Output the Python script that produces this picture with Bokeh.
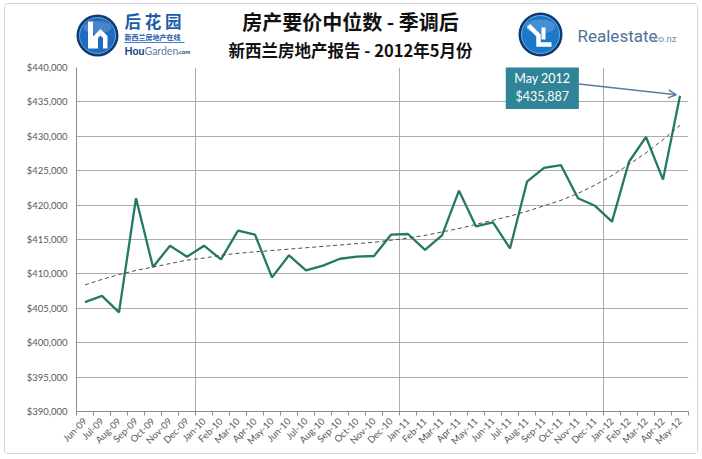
import math
from bokeh.plotting import figure
from bokeh.layouts import column
from bokeh.models import (Range1d, FixedTicker, NumeralTickFormatter, BoxAnnotation,
                          Label, Arrow, OpenHead)
from bokeh.core.properties import value
from bokeh.embed import file_html
from bokeh.resources import INLINE

# ---------------- data ----------------
months = ["Jun-09", "Jul-09", "Aug-09", "Sep-09", "Oct-09", "Nov-09", "Dec-09",
          "Jan-10", "Feb-10", "Mar-10", "Apr-10", "May-10", "Jun-10", "Jul-10",
          "Aug-10", "Sep-10", "Oct-10", "Nov-10", "Dec-10",
          "Jan-11", "Feb-11", "Mar-11", "Apr-11", "May-11", "Jun-11", "Jul-11",
          "Aug-11", "Sep-11", "Oct-11", "Nov-11", "Dec-11",
          "Jan-12", "Feb-12", "Mar-12", "Apr-12", "May-12"]

asking_price = [405900, 406800, 404400, 421000, 411000, 414100, 412500,
                414100, 412100, 416300, 415700, 409500, 412700, 410500,
                411200, 412200, 412500, 412600, 415700,
                415800, 413500, 415600, 422100, 416900, 417500, 413700,
                423400, 425400, 425800, 421000, 419900,
                417600, 426300, 429900, 423700, 435887]

trend = [408400, 409200, 409900, 410500, 411000, 411500, 412000,
         412300, 412700, 413000, 413200, 413400, 413600, 413800,
         414000, 414200, 414400, 414600, 414900,
         415200, 415600, 416100, 416600, 417200, 417800, 418400,
         419100, 419900, 420700, 421700, 422900,
         424300, 425900, 427600, 429500, 431600]

y_ticks = [390000, 395000, 400000, 405000, 410000, 415000, 420000,
           425000, 430000, 435000, 440000]

title = "房产要价中位数 - 季调后"
subtitle = "新西兰房地产报告 - 2012年5月份"
callout_month = "May 2012"

TEAL = "#237868"
AXIS_GREY = "#8c8c8c"
GRID_GREY = "#adadad"
LABEL_GREY = "#595959"

BORDER_L, BORDER_R = 71, 9

# ---------------- header ----------------
hdr = figure(width=692, height=56, x_range=Range1d(76, 688), y_range=Range1d(60, 4),
             toolbar_location=None, output_backend="svg",
             min_border_left=BORDER_L, min_border_right=BORDER_R,
             min_border_top=0, min_border_bottom=0,
             x_axis_location=None, y_axis_location=None)
hdr.grid.visible = False
hdr.outline_line_color = None
OV = dict(level="overlay")

# left logo (HouGarden)
hdr.circle(x=[97], y=[35], radius=21, fill_color="#0f3c70", line_color=None, **OV)
hdr.circle(x=[97], y=[35], radius=18, fill_color="#1e6bbf", line_color="#6aa6e6", line_width=1, **OV)
hdr.ellipse(x=[97], y=[27], width=28, height=13, fill_color="white", fill_alpha=0.18, line_color=None, **OV)
hdr.quad(left=[87.5], right=[92.5], top=[21], bottom=[48], fill_color="white", line_color=None, **OV)
hdr.patch(x=[92.5, 100, 107, 107, 102.5, 102.5, 100, 97.5, 97.5, 92.5],
          y=[36, 28.5, 35.5, 48, 48, 37.5, 35, 37.5, 48, 48],
          fill_color="white", line_color=None, **OV)
hdr.text(x=[124], y=[20], text=["后 花 园"], text_font=value("Noto Sans CJK SC"),
         text_font_style="bold", text_font_size="16.5px", text_color="#1a5cad",
         text_baseline="middle", text_align="left", **OV)
hdr.text(x=[124], y=[36], text=["新西兰房地产在线"], text_font=value("Noto Sans CJK SC"),
         text_font_style="bold", text_font_size="7px", text_color="#1a5cad",
         text_baseline="middle", text_align="left", **OV)
hdr.segment(x0=[124], y0=[42], x1=[184], y1=[42], line_color="#1a5cad", line_width=0.8, **OV)
hdr.text(x=[124], y=[50], text=["Hou"], text_font=value("Lato"), text_font_style="bold",
         text_font_size="10.5px", text_color="#17427a", text_baseline="middle", text_align="left", **OV)
hdr.text(x=[144], y=[50], text=["Garden"], text_font=value("Lato"),
         text_font_size="10.5px", text_color="#5a7fa8", text_baseline="middle", text_align="left", **OV)
hdr.text(x=[177], y=[51], text=[".com"], text_font=value("Lato"), text_font_style="bold",
         text_font_size="6px", text_color="#17427a", text_baseline="middle", text_align="left", **OV)

# titles
hdr.text(x=[350], y=[21], text=[title], text_font=value("Noto Sans CJK SC"),
         text_font_style="bold", text_font_size="20px", text_color="#111111",
         text_baseline="middle", text_align="center", **OV)
hdr.text(x=[350], y=[49], text=[subtitle], text_font=value("Noto Sans CJK SC"),
         text_font_style="bold", text_font_size="16.5px", text_color="#111111",
         text_baseline="middle", text_align="center", **OV)

# right logo (Realestate)
hdr.circle(x=[540], y=[34], radius=22, fill_color="#0c3a6c", line_color=None, **OV)
hdr.circle(x=[540], y=[34], radius=19, fill_color="#1c78c9", line_color="#74b0ea", line_width=1, **OV)
hdr.ellipse(x=[540], y=[26], width=30, height=14, fill_color="white", fill_alpha=0.18, line_color=None, **OV)
hdr.line(x=[528, 538, 538, 551], y=[25, 35, 44, 44], line_color="white", line_width=4.5,
         line_join="miter", **OV)
hdr.line(x=[543, 543], y=[27, 39], line_color="white", line_width=4, **OV)
hdr.text(x=[577], y=[35], text=["Realestate"], text_font=value("Roboto"),
         text_font_size="17px", text_color="#4f7398", text_baseline="middle", text_align="left", **OV)
hdr.text(x=[653], y=[38], text=["co.nz"], text_font=value("Roboto"),
         text_font_size="9.5px", text_color="#6f8dac", text_baseline="middle", text_align="left", **OV)

# ---------------- chart ----------------
n = len(months)
idx = list(range(n))

p = figure(width=692, height=393, x_range=Range1d(-0.5, n - 0.5),
           y_range=Range1d(y_ticks[0], y_ticks[-1]),
           toolbar_location=None, output_backend="svg",
           min_border_left=BORDER_L, min_border_right=BORDER_R,
           min_border_top=7, min_border_bottom=41)
p.outline_line_color = None
p.background_fill_color = "white"

# x axis
p.xaxis.ticker = FixedTicker(ticks=idx, minor_ticks=[i - 0.5 for i in range(n + 1)])
p.xaxis.major_label_overrides = {i: m for i, m in enumerate(months)}
p.xaxis.major_label_orientation = math.pi / 4
p.xaxis.major_tick_line_color = None
p.xaxis.major_tick_out = 0
p.xaxis.major_tick_in = 0
p.xaxis.minor_tick_out = 4
p.xaxis.minor_tick_in = 0
p.xaxis.minor_tick_line_color = AXIS_GREY
p.xaxis.major_label_standoff = 4
p.xaxis.axis_line_color = AXIS_GREY
p.xaxis.major_label_text_font_size = "9.5px"

# y axis
p.yaxis.ticker = FixedTicker(ticks=y_ticks)
p.yaxis.formatter = NumeralTickFormatter(format="$0,0")
p.yaxis.major_tick_line_color = None
p.yaxis.major_tick_out = 0
p.yaxis.major_tick_in = 0
p.yaxis.minor_tick_line_color = None
p.yaxis.major_label_standoff = 9
p.yaxis.axis_line_color = AXIS_GREY
p.yaxis.major_label_text_font_size = "9.5px"

for ax in (p.xaxis, p.yaxis):
    ax.major_label_text_font = "Lato"
    ax.major_label_text_color = LABEL_GREY

# grids
p.ygrid.ticker = FixedTicker(ticks=y_ticks)
p.ygrid.grid_line_color = GRID_GREY
jan_bounds = [i - 0.5 for i, m in enumerate(months) if m.startswith("Jan")]
p.xgrid.ticker = FixedTicker(ticks=jan_bounds)
p.xgrid.grid_line_color = GRID_GREY

# series
p.line(idx, asking_price, line_color=TEAL, line_width=2.3)
p.line(idx, trend, line_color="#4d4d4d", line_width=1, line_dash="4 3")

# callout
p.add_layout(BoxAnnotation(left=24.75, right=29.05, top=440150, bottom=433950,
                           fill_color="#2f8497", fill_alpha=1, line_color=None))
p.add_layout(Label(x=26.9, y=438450, text=callout_month, text_align="center",
                   text_baseline="middle", text_color="white", text_font="Lato",
                   text_font_size="12.5px"))
p.add_layout(Label(x=26.9, y=435800, text=f"${asking_price[-1]:,}", text_align="center",
                   text_baseline="middle", text_color="white", text_font="Lato",
                   text_font_size="12.5px"))
p.add_layout(Arrow(end=OpenHead(size=8, line_color="#5b7aa6", line_width=1.5),
                   x_start=29.05, y_start=437600, x_end=n - 1 - 0.22, y_end=asking_price[-1] + 150,
                   line_color="#5b7aa6", line_width=1.5))

layout = column(hdr, p, styles={"border": "1px solid #d3d3d3", "border-radius": "4px"},
                margin=(3, 0, 0, 4))

open("out.html", "w").write(file_html(layout, INLINE))
